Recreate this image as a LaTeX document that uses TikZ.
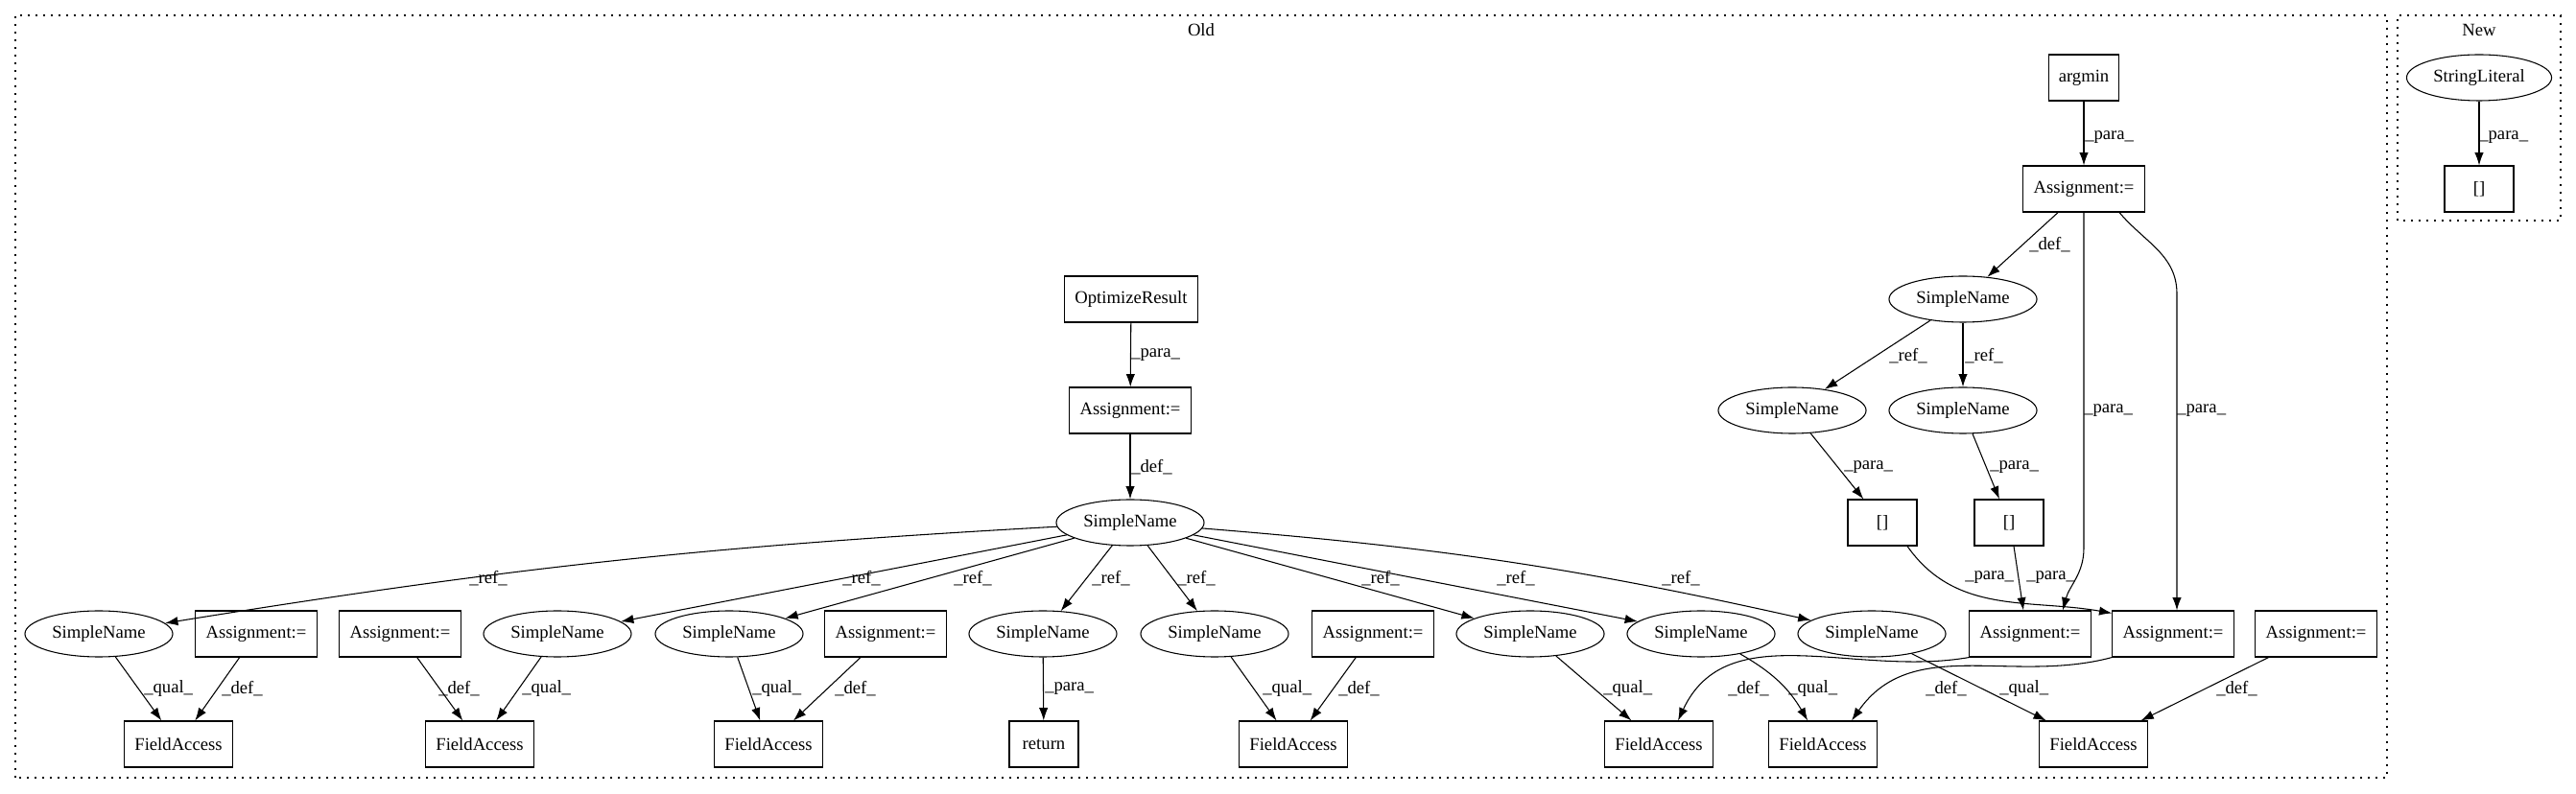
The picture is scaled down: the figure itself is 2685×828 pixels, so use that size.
\documentclass[tikz,border=0pt]{standalone}
\usepackage{fontspec}
\setmainfont{Liberation Serif}
\usetikzlibrary{calc}
\usetikzlibrary{arrows.meta, positioning, shapes.geometric}
\begin{document}
\begin{tikzpicture}[x=0.75pt,y=0.75pt,font=\fontsize{14}{17}\selectfont,
  box/.style={draw,line width=0.8pt,rectangle,minimum width=54pt,minimum height=36pt,inner xsep=8pt},
  oval/.style={draw,line width=0.8pt,ellipse,minimum height=36pt,inner xsep=4.3pt,inner ysep=0pt},
  link/.style={line width=0.8pt,-{Latex[length=10pt,width=7pt]}},
  lbl/.style={anchor=west,inner sep=0pt},
  cluster/.style={line width=1pt,dash pattern=on 1.2pt off 4.8pt}]
\useasboundingbox (0,0) rectangle (2685,828);
% clusters
\draw[cluster] (16,17) rectangle (2488,812);
\draw[cluster] (2499,598) rectangle (2669,812);
\node (old) at (1252,797) {Old};
\node (new) at (2584,797) {New};
% old: left part
\node[box] (optres) at (1179,516) {OptimizeResult};
\node[box] (asg) at (1178,400) {Assignment:=};
\node[oval] (sn) at (1178,283) {SimpleName};
\node[oval] (sn1) at (103,167) {SimpleName};
\node[box] (as1) at (267,167) {Assignment:=};
\node[box] (as2) at (417,167) {Assignment:=};
\node[oval] (sn2) at (581,167) {SimpleName};
\node[oval] (sn3) at (760,167) {SimpleName};
\node[box] (as3) at (923,167) {Assignment:=};
\node[oval] (sn4) at (1087,167) {SimpleName};
\node[oval] (sn5) at (1266,167) {SimpleName};
\node[box] (as4) at (1431,167) {Assignment:=};
\node[oval] (sn6) at (1595,167) {SimpleName};
\node[oval] (sn7) at (1773,167) {SimpleName};
\node[oval] (sn8) at (1951,167) {SimpleName};
\node[box] (ar1) at (2116,167) {Assignment:=};
\node[box] (ar2) at (2265,167) {Assignment:=};
\node[box] (ar3) at (2414,167) {Assignment:=};
\node[box] (fa1) at (186,52) {FieldAccess};
\node[box] (fa2) at (500,52) {FieldAccess};
\node[box] (fa3) at (801,52) {FieldAccess};
\node[box] (ret) at (1088,52) {return};
\node[box] (fa4) at (1348,52) {FieldAccess};
\node[box] (fa5) at (1729,52) {FieldAccess};
\node[box] (fa6) at (1900,52) {FieldAccess};
\node[box] (fa7) at (2182,52) {FieldAccess};
% old: right part
\node[box] (argmin) at (2172,747) {argmin};
\node[box] (asr) at (2172,631) {Assignment:=};
\node[oval] (snr) at (2046,516) {SimpleName};
\node[oval] (sna) at (1868,400) {SimpleName};
\node[oval] (snb) at (2046,400) {SimpleName};
\node[box] (ixa) at (1962,283) {[]};
\node[box] (ixb) at (2094,283) {[]};
% new
\node[oval] (str) at (2584,747) {StringLiteral};
\node[box] (ixn) at (2584,631) {[]};

\draw[link] (optres) -- (asg);
\draw[link] (asg) -- (sn);
\draw[link] (sn) to[bend right=3] (sn1);
\draw[link] (sn) -- (sn2);
\draw[link] (sn) -- (sn3);
\draw[link] (sn) -- (sn4);
\draw[link] (sn) -- (sn5);
\draw[link] (sn) -- (sn6);
\draw[link] (sn) -- (sn7);
\draw[link] (sn) to[bend left=4] (sn8);
\draw[link] (sn1) -- (fa1);
\draw[link] (as1) -- (fa1);
\draw[link] (as2) -- (fa2);
\draw[link] (sn2) -- (fa2);
\draw[link] (sn3) -- (fa3);
\draw[link] (as3) -- (fa3);
\draw[link] (sn4) -- (ret);
\draw[link] (sn5) -- (fa4);
\draw[link] (as4) -- (fa4);
\draw[link] (sn6) -- (fa5);
\draw[link] (ar1.south west) to[out=190,in=65] ($(fa5.north)+(20,0)$);
\draw[link] (sn7) to[bend left=15] (fa6);
\draw[link] (ar2.south west) to[out=195,in=55] ($(fa6.north)+(30,0)$);
\draw[link] (sn8) -- (fa7);
\draw[link] (ar3) -- (fa7);
\draw[link] (argmin) -- (asr);
\draw[link] (asr) -- (snr);
\draw[link] (asr.south) -- ++(0,-350) to[out=-90,in=75] ($(ar1.north)+(34,0)$);
\draw[link] ($(asr.south)+(37,0)$) to[out=-50,in=90] ($(ar2.north)+(4,330)$) -- ($(ar2.north)+(4,0)$);
\draw[link] (snr) -- (sna);
\draw[link] (snr) -- (snb);
\draw[link] (sna) -- (ixa);
\draw[link] (snb) -- (ixb);
\draw[link] ($(ixa.south)+(26,0)$) to[out=-55,in=170] ($(ar2.north west)+(0,-3)$);
\draw[link] ($(ixb.south)+(5,0)$) -- ($(ar1.north)+(-7,0)$);
\draw[link] (str) -- (ixn);

% edge labels
\node[lbl] (l1) at (1179,458) {\_para\_};
\node[lbl] (l2) at (1179,341) {\_def\_};
\node[lbl] (l3) at (489,225) {\_ref\_};
\node[lbl] (l4) at (878,225) {\_ref\_};
\node[lbl] (l5) at (994,225) {\_ref\_};
\node[lbl] (l6) at (1138,225) {\_ref\_};
\node[lbl] (l7) at (1227,225) {\_ref\_};
\node[lbl] (l8) at (1419,225) {\_ref\_};
\node[lbl] (l9) at (1560,225) {\_ref\_};
\node[lbl] (l10) at (1732,225) {\_ref\_};
\node[lbl] (l11) at (150,110) {\_qual\_};
\node[lbl] (l12) at (231,110) {\_def\_};
\node[lbl] (l13) at (457,110) {\_def\_};
\node[lbl] (l14) at (544,110) {\_qual\_};
\node[lbl] (l15) at (784,110) {\_qual\_};
\node[lbl] (l16) at (870,110) {\_def\_};
\node[lbl] (l17) at (1089,110) {\_para\_};
\node[lbl] (l18) at (1316,110) {\_qual\_};
\node[lbl] (l19) at (1395,110) {\_def\_};
\node[lbl] (l20) at (1671,110) {\_qual\_};
\node[lbl] (l21) at (1801,110) {\_def\_};
\node[lbl] (l22) at (1864,110) {\_qual\_};
\node[lbl] (l23) at (2007,110) {\_def\_};
\node[lbl] (l24) at (2084,110) {\_qual\_};
\node[lbl] (l25) at (2310,110) {\_def\_};
\node[lbl] (l26) at (2173,685) {\_para\_};
\node[lbl] (l27) at (2115,573) {\_def\_};
\node[lbl] (l28) at (1969,457) {\_ref\_};
\node[lbl] (l29) at (2048,457) {\_ref\_};
\node[lbl] (l30) at (1922,341) {\_para\_};
\node[lbl] (l31) at (2074,341) {\_para\_};
\node[lbl] (l32) at (2172,400) {\_para\_};
\node[lbl] (l33) at (2269,400) {\_para\_};
\node[lbl] (l34) at (2048,226) {\_para\_};
\node[lbl] (l35) at (2112,226) {\_para\_};
\node[lbl] (l36) at (2584,685) {\_para\_};
\end{tikzpicture}
\end{document}
